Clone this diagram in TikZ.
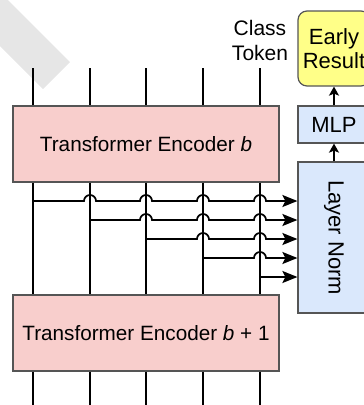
\documentclass[tikz,border=0pt]{standalone}
\usepackage{fontspec}
\setmainfont{Liberation Sans}
\usetikzlibrary{arrows.meta}
\definecolor{encfill}{HTML}{F8CECC}
\definecolor{normfill}{HTML}{DAE8FC}
\definecolor{outfill}{HTML}{FFFF88}
\definecolor{boxline}{HTML}{555555}
\definecolor{stripe}{HTML}{E6E6E6}
\tikzset{
  encbox/.style={draw=boxline, line width=1.2pt, fill=encfill, minimum width=266pt,
    minimum height=76pt, inner sep=0pt, font=\fontsize{20.7}{24}\selectfont},
  normbox/.style={draw=boxline, line width=1.2pt, fill=normfill, inner sep=0pt,
    font=\fontsize{22}{25}\selectfont},
  outbox/.style={draw=boxline, line width=1.2pt, fill=outfill, rounded corners=9pt,
    inner sep=0pt, minimum width=72pt, minimum height=75pt, align=center,
    font=\fontsize{22}{24}\selectfont},
  wire/.style={line width=1.7pt, black},
  feed/.style={wire, -{Stealth[length=15pt, width=12pt, inset=3pt]}},
  upflow/.style={wire, -{Stealth[length=9pt, width=10pt, inset=2pt]}},
}
\begin{document}
\begin{tikzpicture}[x=1pt, y=-1pt]
  \useasboundingbox (0,0) rectangle (364,405);
  \clip (0,0) rectangle (364,405);
  % diagonal grey stripe in the corner
  \fill[stripe] (0,0) -- (8,0) -- (70,62) -- (43,89) -- (0,46) -- cycle;

  % encoder blocks
  \node[encbox] (encA) at (146,144) {Transformer Encoder \textit{b}};
  \node[encbox] (encB) at (146,333) {Transformer Encoder \textit{b} + 1};

  % early-exit head
  \node[normbox, minimum width=72pt, minimum height=151pt] (norm) at (334,237.5)
    {\rotatebox{-90}{Layer Norm}};
  \node[normbox, minimum width=72pt, minimum height=37pt] (mlp) at (334,124.5) {MLP};
  \node[outbox] (early) at (334,48.5) {Early\\Result};

  \node[align=center, inner sep=0pt, font=\fontsize{21}{25}\selectfont] (cls) at (260,40)
    {Class\\Token};

  % token columns
  \foreach \i/\x in {1/33, 2/90, 3/146, 4/203, 5/260} {
    \coordinate (top\i) at (\x,68);
    \coordinate (bot\i) at (\x,405);
    \draw[wire] (top\i) -- (top\i |- encA.north);
    \draw[wire] (top\i |- encA.south) -- (top\i |- encB.north);
    \draw[wire] (top\i |- encB.south) -- (bot\i);
  }

  % taps from every column into the layer norm, hopping over later columns
  \def\hop{6}
  \foreach \i/\x/\y in {1/33/201, 2/90/220, 3/146/239, 4/203/258, 5/260/277} {
    \coordinate (tap\i) at (\x,\y);
    \coordinate (in\i) at (norm.west |- tap\i);
  }
  \draw[feed] (tap1) -- (84,201) arc[start angle=180, end angle=0, radius=\hop pt]
    -- (140,201) arc[start angle=180, end angle=0, radius=\hop pt]
    -- (197,201) arc[start angle=180, end angle=0, radius=\hop pt]
    -- (254,201) arc[start angle=180, end angle=0, radius=\hop pt] -- (in1);
  \draw[feed] (tap2) -- (140,220) arc[start angle=180, end angle=0, radius=\hop pt]
    -- (197,220) arc[start angle=180, end angle=0, radius=\hop pt]
    -- (254,220) arc[start angle=180, end angle=0, radius=\hop pt] -- (in2);
  \draw[feed] (tap3) -- (197,239) arc[start angle=180, end angle=0, radius=\hop pt]
    -- (254,239) arc[start angle=180, end angle=0, radius=\hop pt] -- (in3);
  \draw[feed] (tap4) -- (254,258) arc[start angle=180, end angle=0, radius=\hop pt] -- (in4);
  \draw[feed] (tap5) -- (in5);

  % head flow
  \draw[upflow] (norm.north) -- (mlp.south);
  \draw[upflow] (mlp.north) -- (early.south);
\end{tikzpicture}
\end{document}
